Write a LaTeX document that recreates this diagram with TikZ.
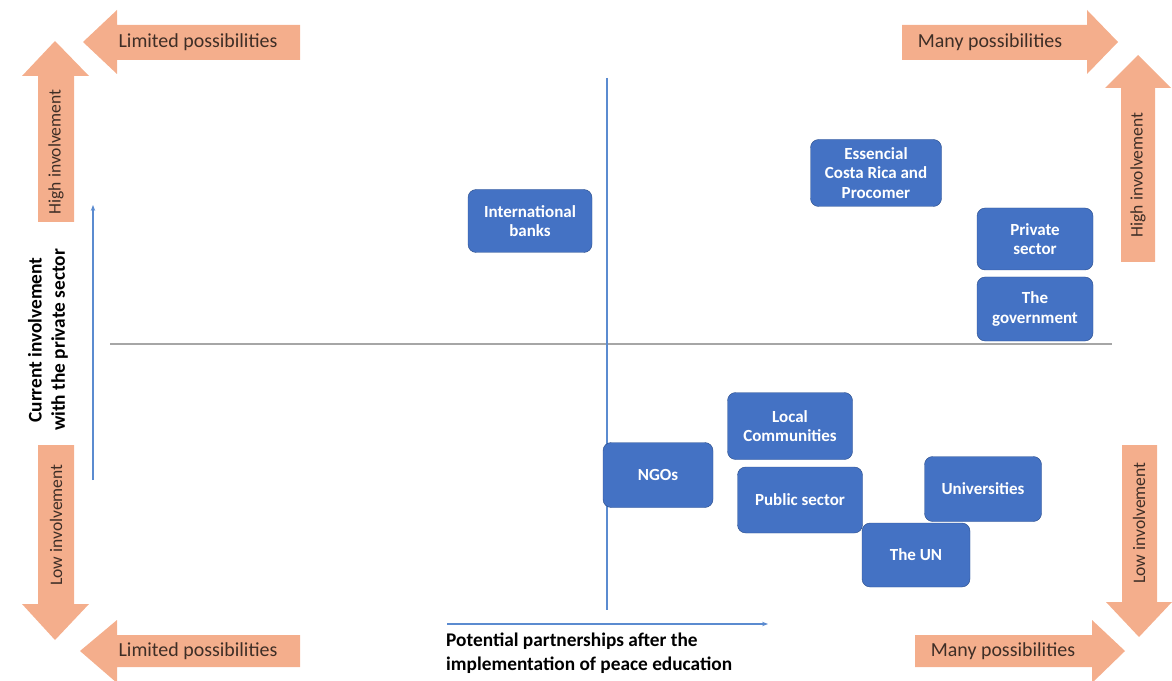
\documentclass[tikz,border=0pt]{standalone}
\usepackage{fontspec}
\setmainfont{Carlito}
\usetikzlibrary{arrows.meta}

\definecolor{boxblue}{HTML}{4472C4}
\definecolor{boxedge}{HTML}{2F528F}
\definecolor{salmon}{HTML}{F4AE8C}
\definecolor{axisblue}{HTML}{5B8BD0}
\definecolor{axisgray}{HTML}{A6A6A6}
\definecolor{arrowtext}{HTML}{3E2E26}

\tikzset{
  box/.style 2 args={draw=boxedge, fill=boxblue, rounded corners=7pt, text=white,
    align=center, inner sep=2pt, minimum width=#1*0.03cm, minimum height=#2*0.03cm,
    font=\fontsize{14.5}{16.5}\selectfont\bfseries},
  bigarrow/.style={fill=salmon},
  hlabel/.style={text=arrowtext, font=\fontsize{17}{19}\selectfont},
  vlabel/.style={text=arrowtext, rotate=90, font=\fontsize{15}{17}\selectfont},
  axislabel/.style={font=\fontsize{16.5}{20}\selectfont\bfseries},
}

\begin{document}
\begin{tikzpicture}[x=0.03cm, y=-0.03cm]
  \useasboundingbox (0,0) rectangle (1172,681);

  % big arrows, left side
  \fill[bigarrow] (300,25) -- (117,25) -- (117,10) -- (83,42) -- (117,74) -- (117,60) -- (300,60) -- cycle;
  \node[hlabel] (limtop) at (198,42) {Limited possibilities};
  \fill[bigarrow] (38,222) -- (38,76) -- (22,76) -- (55,41) -- (89,76) -- (74,76) -- (74,222) -- cycle;
  \node[vlabel] (highleft) at (56,152) {High involvement};
  \fill[bigarrow] (38,445) -- (38,604) -- (22,604) -- (55,640) -- (89,604) -- (74,604) -- (74,445) -- cycle;
  \node[vlabel] (lowleft) at (56,525) {Low involvement};
  \fill[bigarrow] (300,635) -- (117,635) -- (117,620) -- (80,651) -- (117,683) -- (117,667) -- (300,667) -- cycle;
  \node[hlabel] (limbot) at (198,651) {Limited possibilities};

  % big arrows, right side
  \fill[bigarrow] (902,25) -- (1087,25) -- (1087,10) -- (1118,42) -- (1087,74) -- (1087,60) -- (902,60) -- cycle;
  \node[hlabel] (manytop) at (990,42) {Many possibilities};
  \fill[bigarrow] (1121,262) -- (1121,88) -- (1105,88) -- (1138,55) -- (1171,88) -- (1155,88) -- (1155,262) -- cycle;
  \node[vlabel] (highright) at (1138,175) {High involvement};
  \fill[bigarrow] (1122,445) -- (1122,602) -- (1106,602) -- (1139,637) -- (1172,602) -- (1157,602) -- (1157,445) -- cycle;
  \node[vlabel] (lowright) at (1139,523) {Low involvement};
  \fill[bigarrow] (915,635) -- (1092,635) -- (1092,620) -- (1125,651) -- (1092,683) -- (1092,667) -- (915,667) -- cycle;
  \node[hlabel] (manybot) at (1003,651) {Many possibilities};

  % quadrant lines
  \coordinate (vtop) at (607,78);
  \coordinate (vbot) at (607,610);
  \coordinate (hleft) at (110,344);
  \coordinate (hright) at (1112,344);
  \draw[axisgray, line width=1.6pt] (hleft) -- (hright);
  \draw[axisblue, line width=0.9pt] (vtop) -- (vbot);

  % axis arrows
  \coordinate (ylow) at (93,480);
  \coordinate (yhigh) at (93,205);
  \coordinate (xlow) at (447,624);
  \coordinate (xhigh) at (768,624);
  \draw[axisblue, line width=0.9pt, -{Stealth[length=5pt]}] (ylow) -- (yhigh);
  \draw[axisblue, line width=0.9pt, -{Stealth[length=5pt]}] (xlow) -- (xhigh);
  \node[axislabel, rotate=90, align=center] (ytitle) at (48,340) {Current involvement\\with the private sector};
  \node[axislabel, anchor=north west, align=left, inner sep=0pt] (xtitle) at (446,633) {Potential partnerships after the\\implementation of peace education};

  % actors
  \node[box={124}{63}] (banks) at (530,221) {International\\banks};
  \node[box={131}{67}] (essencial) at (876,173) {Essencial\\Costa Rica and\\Procomer};
  \node[box={116}{62}] (private) at (1035,239) {Private\\sector};
  \node[box={116}{64}] (gov) at (1035,309) {The\\government};
  \node[box={125}{67}] (local) at (790,426) {Local\\Communities};
  \node[box={110}{65}] (ngos) at (658,475) {NGOs};
  \node[box={125}{66}] (public) at (800,500) {Public sector};
  \node[box={117}{65}] (univ) at (983,489) {Universities};
  \node[box={108}{64}] (un) at (916,555) {The UN};
\end{tikzpicture}
\end{document}
